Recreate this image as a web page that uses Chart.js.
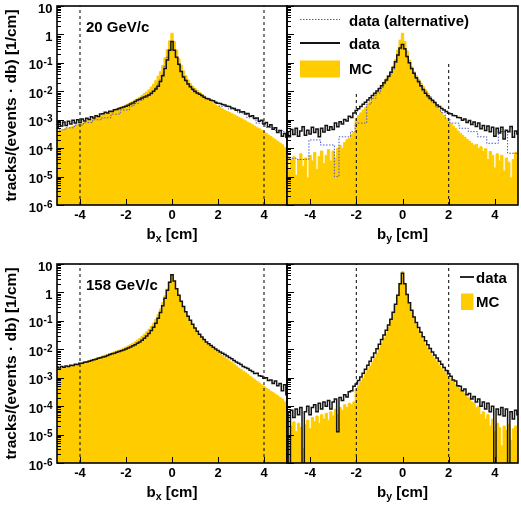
<!DOCTYPE html>
<html><head><meta charset="utf-8">
<script src="https://cdn.jsdelivr.net/npm/chart.js@4.4.1/dist/chart.umd.min.js"></script>
<style>
html,body{margin:0;padding:0;background:#fff;}
#wrap{position:relative;width:521px;height:505px;overflow:hidden;background:#fff;}
#wrap canvas{position:absolute;left:0;top:0;}
</style></head><body>
<div id="wrap">
<canvas id="cTL" width="521" height="505"></canvas>
<canvas id="cTR" width="521" height="505"></canvas>
<canvas id="cBL" width="521" height="505"></canvas>
<canvas id="cBR" width="521" height="505"></canvas>
</div>
<script>
// ---------- categories / ticks ----------
const BIN_W = 0.1;
const binCenters = Array.from({length: 101}, (_, i) => (i - 50) / 10); // -5.0 ... 5.0 cm
const xTicks = [-4, -2, 0, 2, 4];
const yTickValues = [1e-6, 1e-5, 1e-4, 1e-3, 1e-2, 1e-1, 1, 10];
const yTickExps = [-6, -5, -4, -3, -2, -1, 0, 1];
const cutsBx = [-4, 4];
const cutsBy = [-2, 2];
const cutTopsBx20 = [10, 10];
const cutTopsBy20 = [0.01, 0.1];
const cutTopsBx158 = [10, 10];
const cutTopsBy158 = [10, 10];
const panelLabels = ['20 GeV/c', '158 GeV/c'];

// ---------- 20 GeV/c, b_x ----------
const bx20MC = [
 3.8e-4,4.0e-4,4.3e-4,4.6e-4,4.9e-4,5.1e-4,5.5e-4,5.9e-4,6.2e-4,6.6e-4,
 7.1e-4,7.6e-4,8.1e-4,8.9e-4,9.5e-4,1.02e-3,1.1e-3,1.17e-3,1.29e-3,1.38e-3,
 1.48e-3,1.58e-3,1.74e-3,1.86e-3,2.04e-3,2.19e-3,2.4e-3,2.57e-3,2.82e-3,3.0e-3,
 3.3e-3,3.6e-3,4.0e-3,4.4e-3,4.9e-3,5.4e-3,6.2e-3,7.1e-3,8.3e-3,9.5e-3,
 1.12e-2,1.41e-2,1.78e-2,2.34e-2,3.4e-2,4.9e-2,8.1e-2,0.151,0.295,0.6,
 1.1,0.56,0.28,0.141,8.3e-2,5.2e-2,3.55e-2,2.5e-2,1.9e-2,1.51e-2,
 1.26e-2,1.07e-2,9.1e-3,7.8e-3,6.6e-3,5.6e-3,4.9e-3,4.3e-3,3.7e-3,3.3e-3,
 2.9e-3,2.63e-3,2.4e-3,2.14e-3,1.95e-3,1.78e-3,1.62e-3,1.48e-3,1.35e-3,1.23e-3,
 1.12e-3,1.0e-3,9.1e-4,8.1e-4,7.4e-4,6.6e-4,5.9e-4,5.2e-4,4.8e-4,4.3e-4,
 3.8e-4,3.3e-4,2.9e-4,2.57e-4,2.24e-4,1.95e-4,1.7e-4,1.51e-4,1.32e-4,1.05e-4,
 7.9e-5];
const bx20Data = [
 5.2e-4,7.9e-4,6.0e-4,8.3e-4,6.3e-4,8.9e-4,7.1e-4,9.5e-4,7.6e-4,1.0e-3,
 7.9e-4,1.05e-3,9.1e-4,1.12e-3,1.02e-3,1.26e-3,1.15e-3,1.38e-3,1.29e-3,1.58e-3,
 1.62e-3,1.82e-3,1.74e-3,2.0e-3,1.95e-3,2.24e-3,2.3e-3,2.5e-3,2.63e-3,2.82e-3,
 3.0e-3,3.2e-3,3.55e-3,3.9e-3,4.4e-3,4.9e-3,5.2e-3,5.8e-3,6.3e-3,6.8e-3,
 7.4e-3,8.5e-3,1.0e-2,1.2e-2,1.51e-2,2.2e-2,3.55e-2,6.3e-2,0.126,0.28,
 0.56,0.28,0.158,8.9e-2,5.0e-2,3.2e-2,2.4e-2,1.82e-2,1.45e-2,1.17e-2,
 9.8e-3,8.7e-3,7.8e-3,7.1e-3,6.2e-3,5.6e-3,5.4e-3,4.8e-3,4.6e-3,4.1e-3,
 3.8e-3,3.7e-3,3.4e-3,3.3e-3,2.95e-3,2.9e-3,2.57e-3,2.5e-3,2.14e-3,2.2e-3,
 1.86e-3,1.9e-3,1.58e-3,1.66e-3,1.32e-3,1.38e-3,1.1e-3,1.15e-3,8.9e-4,9.5e-4,
 7.1e-4,7.9e-4,5.6e-4,6.6e-4,4.6e-4,5.2e-4,3.55e-4,4.2e-4,2.63e-4,3.3e-4,
 2.4e-4];
const bx20Alt = [
 4.4e-4,4.4e-4,4.4e-4,4.4e-4,5.2e-4,5.2e-4,5.2e-4,5.2e-4,6.5e-4,6.5e-4,
 6.5e-4,6.5e-4,7.9e-4,7.9e-4,7.9e-4,7.9e-4,1.0e-3,1.0e-3,1.0e-3,1.0e-3,
 1.17e-3,1.17e-3,1.17e-3,1.17e-3,1.58e-3,1.58e-3,1.58e-3,1.58e-3,2.2e-3,2.2e-3,
 2.2e-3,2.2e-3,3.0e-3,3.0e-3,3.7e-3,3.7e-3,4.8e-3,4.8e-3,6.0e-3,6.0e-3,
 7.6e-3,7.6e-3,1.0e-2,1.32e-2,1.78e-2,2.5e-2,4.0e-2,7.6e-2,0.158,0.28,
 0.3,0.275,0.15,8.3e-2,5.0e-2,3.4e-2,2.5e-2,1.9e-2,1.51e-2,1.07e-2,
 1.07e-2,8.3e-3,8.3e-3,6.8e-3,6.8e-3,5.6e-3,5.6e-3,4.7e-3,4.7e-3,3.7e-3,
 3.7e-3,2.95e-3,2.95e-3,2.95e-3,2.95e-3,2.34e-3,2.34e-3,2.34e-3,2.34e-3,1.74e-3,
 1.74e-3,1.74e-3,1.74e-3,1.17e-3,1.17e-3,1.17e-3,1.17e-3,7.6e-4,7.6e-4,7.6e-4,
 7.6e-4,5.4e-4,5.4e-4,5.4e-4,5.4e-4,4.2e-4,4.2e-4,4.2e-4,4.2e-4,3.8e-4,
 3.8e-4];

// ---------- 20 GeV/c, b_y ----------
const by20MC = [
 5.6e-5,1.78e-5,4.0e-5,5.0e-5,1.12e-5,4.0e-5,6.3e-5,2.24e-5,4.5e-5,8.9e-6,
 5.6e-5,3.55e-5,7.1e-5,1.78e-5,5.0e-5,7.9e-5,2.82e-5,5.6e-5,8.9e-5,3.55e-5,
 7.9e-5,4.5e-5,1.0e-4,1.26e-4,1.0e-4,1.58e-4,2.0e-4,2.24e-4,3.0e-4,3.55e-4,
 1.12e-3,1.41e-3,1.74e-3,2.19e-3,2.75e-3,3.5e-3,4.5e-3,5.8e-3,7.4e-3,9.5e-3,
 1.26e-2,1.62e-2,2.1e-2,2.75e-2,3.6e-2,4.9e-2,7.6e-2,0.132,0.28,0.63,
 1.1,0.56,0.263,0.126,7.2e-2,4.9e-2,3.55e-2,2.63e-2,1.95e-2,1.48e-2,
 1.12e-2,8.5e-3,6.5e-3,4.9e-3,3.7e-3,2.9e-3,2.24e-3,1.74e-3,1.38e-3,1.07e-3,
 8.5e-4,7.1e-4,5.9e-4,4.9e-4,4.0e-4,3.3e-4,2.82e-4,2.4e-4,2.0e-4,1.74e-4,
 1.48e-4,1.26e-4,1.35e-4,9.5e-5,1.12e-4,7.6e-5,9.5e-5,4.0e-5,7.6e-5,5.6e-5,
 2.0e-5,6.3e-5,3.55e-5,5.6e-5,1.58e-5,4.5e-5,3.2e-5,8.9e-6,4.0e-5,7.1e-5,
 4.0e-5];
const by20Data = [
 3.55e-4,2.5e-4,4.5e-4,3.0e-4,5.0e-4,2.63e-4,4.0e-4,5.6e-4,2.82e-4,4.3e-4,
 3.16e-4,5.4e-4,3.55e-4,4.7e-4,2.5e-4,5.0e-4,3.7e-4,6.3e-4,4.3e-4,5.6e-4,
 4.5e-4,7.6e-4,5.6e-4,8.5e-4,7.1e-4,1.02e-3,9.1e-4,1.32e-3,1.2e-3,1.74e-3,
 2.1e-3,2.45e-3,2.9e-3,3.5e-3,4.1e-3,4.9e-3,5.9e-3,7.1e-3,8.5e-3,1.02e-2,
 1.26e-2,1.58e-2,2.0e-2,2.5e-2,3.4e-2,4.7e-2,6.9e-2,0.11,0.19,0.33,
 0.44,0.316,0.166,0.1,6.3e-2,4.3e-2,3.0e-2,2.2e-2,1.58e-2,1.15e-2,
 8.5e-3,6.9e-3,5.6e-3,4.8e-3,4.0e-3,3.3e-3,2.9e-3,2.5e-3,2.2e-3,1.95e-3,
 1.7e-3,1.62e-3,1.41e-3,1.38e-3,1.2e-3,1.17e-3,9.5e-4,1.07e-3,7.9e-4,9.3e-4,
 6.8e-4,8.3e-4,5.8e-4,7.6e-4,4.8e-4,6.3e-4,4.2e-4,6.0e-4,3.8e-4,5.4e-4,
 2.63e-4,5.0e-4,3.4e-4,5.4e-4,2.1e-4,4.3e-4,3.8e-4,5.8e-4,2.4e-4,4.0e-4,
 3.16e-4];
const by20Alt = [
 4.4e-5,4.4e-5,4.4e-5,4.4e-5,4.4e-5,4.0e-5,4.0e-5,4.0e-5,4.0e-5,4.0e-5,
 1.95e-4,1.95e-4,1.95e-4,1.95e-4,1.95e-4,1.29e-4,1.29e-4,1.29e-4,1.29e-4,1.29e-4,
 1.29e-4,1.0e-5,1.0e-5,2.5e-4,2.5e-4,2.5e-4,2.5e-4,2.5e-4,3.8e-4,3.8e-4,
 7.6e-4,7.6e-4,7.6e-4,7.6e-4,7.6e-4,3.55e-3,3.55e-3,5.6e-3,5.6e-3,8.7e-3,
 8.7e-3,1.26e-2,1.66e-2,2.24e-2,3.0e-2,4.0e-2,6.0e-2,0.1,0.178,0.3,
 0.32,0.295,0.158,9.5e-2,6.0e-2,4.0e-2,2.82e-2,2.0e-2,1.48e-2,1.0e-2,
 1.0e-2,6.3e-3,6.3e-3,4.2e-3,4.2e-3,2.75e-3,2.75e-3,1.78e-3,1.78e-3,1.12e-3,
 1.12e-3,7.6e-4,7.6e-4,7.6e-4,7.6e-4,5.0e-4,5.0e-4,5.0e-4,5.0e-4,3.8e-4,
 3.8e-4,3.8e-4,3.8e-4,2.5e-4,2.5e-4,2.5e-4,2.5e-4,1.48e-4,1.48e-4,1.48e-4,
 1.48e-4,1.48e-4,3.8e-4,3.8e-4,3.8e-4,3.8e-4,6.6e-5,6.6e-5,6.6e-5,6.6e-5,
 6.6e-5];

// ---------- 158 GeV/c, b_x ----------
const bx158MC = [
 1.9e-3,2.0e-3,2.1e-3,2.2e-3,2.3e-3,2.4e-3,2.6e-3,2.7e-3,2.8e-3,3.0e-3,
 3.2e-3,3.3e-3,3.5e-3,3.7e-3,4.0e-3,4.2e-3,4.5e-3,4.8e-3,5.0e-3,5.4e-3,
 5.8e-3,6.2e-3,6.6e-3,7.1e-3,7.6e-3,8.1e-3,8.7e-3,9.3e-3,1.0e-2,1.1e-2,
 1.2e-2,1.32e-2,1.45e-2,1.62e-2,1.82e-2,2.1e-2,2.4e-2,2.8e-2,3.4e-2,4.1e-2,
 5.0e-2,6.3e-2,8.3e-2,0.115,0.166,0.26,0.44,0.76,1.32,2.4,
 4.2,2.4,1.26,0.76,0.47,0.3,0.2,0.138,0.1,7.2e-2,
 5.4e-2,4.1e-2,3.2e-2,2.5e-2,2.0e-2,1.66e-2,1.41e-2,1.2e-2,1.02e-2,8.9e-3,
 7.8e-3,6.8e-3,5.9e-3,5.1e-3,4.5e-3,3.9e-3,3.4e-3,3.0e-3,2.6e-3,2.2e-3,
 1.95e-3,1.7e-3,1.48e-3,1.29e-3,1.12e-3,9.8e-4,8.5e-4,7.4e-4,6.5e-4,5.6e-4,
 4.9e-4,4.3e-4,3.8e-4,3.3e-4,2.95e-4,2.6e-4,2.3e-4,2.0e-4,1.78e-4,1.41e-4,
 3.2e-5];
const bx158Data = [
 2.4e-3,2.2e-3,2.5e-3,2.35e-3,2.6e-3,2.5e-3,2.75e-3,2.7e-3,2.95e-3,2.9e-3,
 3.2e-3,3.25e-3,3.5e-3,3.55e-3,3.8e-3,4.0e-3,4.3e-3,4.5e-3,4.8e-3,5.0e-3,
 5.4e-3,5.6e-3,6.0e-3,6.5e-3,6.9e-3,7.2e-3,7.8e-3,8.3e-3,8.9e-3,9.5e-3,
 1.02e-2,1.1e-2,1.2e-2,1.32e-2,1.45e-2,1.62e-2,1.82e-2,2.1e-2,2.45e-2,2.95e-2,
 3.6e-2,4.6e-2,6.0e-2,8.3e-2,0.123,0.195,0.34,0.63,1.2,2.3,
 4.2,2.5,1.35,0.79,0.49,0.32,0.21,0.145,0.105,7.6e-2,
 5.6e-2,4.3e-2,3.4e-2,2.7e-2,2.2e-2,1.82e-2,1.55e-2,1.35e-2,1.17e-2,1.02e-2,
 9.1e-3,8.1e-3,7.2e-3,6.5e-3,5.8e-3,5.1e-3,4.6e-3,4.0e-3,3.6e-3,3.2e-3,
 2.9e-3,2.5e-3,2.3e-3,2.1e-3,1.82e-3,1.66e-3,1.41e-3,1.45e-3,1.17e-3,1.12e-3,
 9.5e-4,1.0e-3,7.9e-4,8.3e-4,6.3e-4,7.6e-4,5.2e-4,6.3e-4,3.5e-4,5.6e-4,
 2.5e-4];

// ---------- 158 GeV/c, b_y ----------
const by158MC = [
 2.5e-5,5e-6,2.0e-5,2.8e-5,1.26e-5,2.5e-5,1.78e-5,3.2e-6,2.2e-5,3.2e-5,
 1.6e-5,4.0e-5,2.8e-5,4.5e-5,2.5e-5,5.0e-5,3.5e-5,5.6e-5,3.2e-5,6.3e-5,
 4.5e-5,7.9e-5,5.0e-5,8.9e-5,7.1e-5,1.12e-4,8.9e-5,1.26e-4,1.12e-4,1.41e-4,
 4.0e-4,5.2e-4,7.1e-4,9.5e-4,1.32e-3,1.82e-3,2.5e-3,3.5e-3,4.9e-3,7.1e-3,
 1.05e-2,1.58e-2,2.4e-2,3.7e-2,6.0e-2,0.105,0.19,0.36,0.79,2.1,
 5.4,2.1,0.87,0.42,0.22,0.126,7.6e-2,4.8e-2,3.2e-2,2.1e-2,
 1.51e-2,1.1e-2,8.1e-3,6.0e-3,4.6e-3,3.5e-3,2.7e-3,2.1e-3,1.7e-3,1.35e-3,
 1.07e-3,8.7e-4,7.1e-4,5.8e-4,4.7e-4,4.0e-4,3.2e-4,2.8e-4,2.1e-4,1.9e-4,
 1.41e-4,1.26e-4,8.9e-5,1.0e-4,5.0e-5,6.3e-5,3.5e-5,5.0e-5,2.0e-5,3.5e-5,
 1.26e-5,2.5e-5,1.78e-5,4e-6,2.0e-5,1.41e-5,2.2e-5,6.3e-6,1.6e-5,2.0e-5,
 1.26e-5];
const by158Data = [
 5.6e-5,0,7.1e-5,4.0e-5,7.9e-5,5.0e-5,8.9e-5,0,6.3e-5,1.0e-4,
 5.0e-5,8.9e-5,1.12e-4,6.3e-5,1.26e-4,7.9e-5,1.41e-4,1.0e-4,1.58e-4,7.9e-5,
 1.41e-4,1.78e-4,1.26e-5,2.0e-4,1.58e-4,2.5e-4,2.1e-4,3.2e-4,3.5e-4,5.0e-4,
 6.0e-4,7.9e-4,1.05e-3,1.45e-3,2.0e-3,2.75e-3,3.8e-3,5.2e-3,7.4e-3,1.05e-2,
 1.51e-2,2.2e-2,3.2e-2,4.7e-2,7.1e-2,0.115,0.2,0.38,0.79,2.0,
 4.7,2.0,0.85,0.43,0.235,0.138,8.7e-2,5.8e-2,4.0e-2,2.75e-2,
 2.0e-2,1.45e-2,1.07e-2,8.1e-3,6.3e-3,4.9e-3,3.8e-3,2.95e-3,2.3e-3,1.78e-3,
 1.38e-3,1.12e-3,8.3e-4,7.6e-4,5.2e-4,5.0e-4,3.5e-4,4.0e-4,2.5e-4,2.8e-4,
 1.78e-4,2.2e-4,1.41e-4,1.78e-4,1.0e-4,1.41e-4,7.9e-5,1.26e-4,6.3e-5,1.0e-4,
 0,7.9e-5,5.0e-5,8.9e-5,4.5e-5,7.9e-5,0,6.3e-5,3.5e-5,7.1e-5,
 5.0e-5];

// ---------- drawing ----------
const FONT = '"Liberation Sans", Arial, Helvetica, sans-serif';
const MC_COLOR = '#FFCC00';
const DATA_COLOR = '#141414';
const ALT_COLOR = 'rgb(70,85,225)';
const Y_MIN = 1e-6, Y_MAX = 10;
const Y_TITLE = 'tracks/(events \u00b7 db) [1/cm]';

function hist(values) {
  const pts = values.map((v, i) => ({x: binCenters[i] - BIN_W / 2, y: v > 0 ? v : Y_MIN / 100}));
  pts.push({x: binCenters[binCenters.length - 1] + BIN_W / 2, y: pts[pts.length - 1].y});
  return pts;
}
function vline(xv, top) { return [{x: xv, y: Y_MIN}, {x: xv, y: top}]; }

function makeDecor(p) {
  return {
    id: 'decor',
    afterDraw(chart) {
      const ctx = chart.ctx, a = chart.chartArea, xs = chart.scales.x, ys = chart.scales.y;
      ctx.save();
      ctx.strokeStyle = '#000'; ctx.fillStyle = '#000';
      ctx.lineWidth = 1;
      yTickValues.forEach(dec => {
        for (let m = 1; m <= 9; m++) {
          const v = dec * m;
          if (v > Y_MAX * 1.0001) break;
          const py = Math.round(ys.getPixelForValue(v)) + 0.5;
          ctx.beginPath(); ctx.moveTo(a.left, py); ctx.lineTo(a.left + (m === 1 ? 7 : 4), py); ctx.stroke();
        }
      });
      xTicks.forEach(v => {
        const px = Math.round(xs.getPixelForValue(v)) + 0.5;
        ctx.beginPath(); ctx.moveTo(px, a.bottom); ctx.lineTo(px, a.bottom - 6); ctx.stroke();
      });
      ctx.lineWidth = 1.6;
      ctx.strokeRect(a.left, a.top, a.right - a.left, a.bottom - a.top);

      if (p.yLabels) {
        yTickValues.forEach((v, i) => {
          const e = yTickExps[i];
          const py = ys.getPixelForValue(v);
          const base = e === 0 ? '1' : '10';
          const sup = (e === 0 || e === 1) ? '' : String(e);
          ctx.font = 'bold 10px ' + FONT;
          const sw = sup ? ctx.measureText(sup).width + 0.5 : 0;
          ctx.font = 'bold 13px ' + FONT;
          ctx.textAlign = 'right'; ctx.textBaseline = 'alphabetic';
          const bx = 52.5 - sw, by = py + 6.5;
          ctx.fillText(base, bx, by);
          if (sup) { ctx.font = 'bold 10px ' + FONT; ctx.textAlign = 'left'; ctx.fillText(sup, bx + 0.5, by - 4); }
        });
        ctx.save();
        ctx.translate(12, (a.top + a.bottom) / 2);
        ctx.rotate(-Math.PI / 2);
        ctx.font = 'bold 15.5px ' + FONT; ctx.textAlign = 'center'; ctx.textBaseline = 'middle';
        ctx.fillText(Y_TITLE, 0, 0);
        ctx.restore();
      }
      ctx.textAlign = 'left'; ctx.textBaseline = 'alphabetic';
      ctx.font = 'bold 15px ' + FONT;
      const w1 = ctx.measureText('b').width, w3 = ctx.measureText(' [cm]').width;
      ctx.font = 'bold 10.5px ' + FONT;
      const w2 = ctx.measureText(p.sub).width;
      const x0 = (a.left + a.right) / 2 - (w1 + w2 + w3) / 2, tb = a.bottom + 33.5;
      ctx.font = 'bold 15px ' + FONT; ctx.fillText('b', x0, tb);
      ctx.font = 'bold 10.5px ' + FONT; ctx.fillText(p.sub, x0 + w1, tb + 3.5);
      ctx.font = 'bold 15px ' + FONT; ctx.fillText(' [cm]', x0 + w1 + w2, tb);
      if (p.label) { ctx.font = 'bold 15px ' + FONT; ctx.fillText(p.label, 86, a.top + 26); }
      if (p.legend === 'full') {
        const t = a.top;
        ctx.lineWidth = 1; ctx.strokeStyle = ALT_COLOR; ctx.setLineDash([1.5, 1.5]);
        ctx.beginPath(); ctx.moveTo(300, t + 13.5); ctx.lineTo(340, t + 13.5); ctx.stroke();
        ctx.setLineDash([]); ctx.strokeStyle = DATA_COLOR; ctx.lineWidth = 1.8;
        ctx.beginPath(); ctx.moveTo(300, t + 37); ctx.lineTo(340, t + 37); ctx.stroke();
        ctx.fillStyle = MC_COLOR; ctx.fillRect(300, t + 54.5, 40, 17);
        ctx.fillStyle = '#000'; ctx.font = 'bold 15px ' + FONT;
        ctx.fillText('data (alternative)', 349, t + 19.5);
        ctx.fillText('data', 349, t + 42.5);
        ctx.fillText('MC', 349, t + 68);
      } else if (p.legend === 'short') {
        const t = a.top;
        ctx.setLineDash([]); ctx.strokeStyle = DATA_COLOR; ctx.lineWidth = 1.8;
        ctx.beginPath(); ctx.moveTo(460, t + 13); ctx.lineTo(474, t + 13); ctx.stroke();
        ctx.fillStyle = MC_COLOR; ctx.fillRect(461, t + 29.5, 12.5, 16.5);
        ctx.fillStyle = '#000'; ctx.font = 'bold 15px ' + FONT;
        ctx.fillText('data', 476, t + 18.5);
        ctx.fillText('MC', 476, t + 43);
      }
      ctx.restore();
    }
  };
}

function makePanel(id, p) {
  const ds = [];
  ds.push({label: 'data', data: hist(p.data), borderColor: DATA_COLOR, borderWidth: 1.5, fill: false, stepped: true, order: 0});
  p.cuts.forEach((c, i) => ds.push({label: 'cut', data: vline(c, p.cutTops[i]), borderColor: '#000', borderWidth: 1, borderDash: [3, 3], fill: false, order: 1}));
  if (p.alt) ds.push({label: 'data (alternative)', data: hist(p.alt), borderColor: ALT_COLOR, borderWidth: 1, borderDash: [1.5, 1.5], fill: false, stepped: true, order: 2});
  ds.push({label: 'MC', data: hist(p.mc), borderColor: MC_COLOR, backgroundColor: MC_COLOR, borderWidth: 1, fill: 'start', stepped: true, order: 3});
  new Chart(document.getElementById(id), {
    type: 'line',
    data: {datasets: ds},
    options: {
      responsive: false, animation: false, events: [], devicePixelRatio: 1,
      layout: {padding: p.pad},
      elements: {point: {radius: 0}, line: {tension: 0, borderJoinStyle: 'miter', borderCapStyle: 'butt'}},
      plugins: {legend: {display: false}, tooltip: {enabled: false}},
      scales: {
        x: {
          type: 'linear', min: -5, max: 5,
          afterBuildTicks: s => { s.ticks = xTicks.map(v => ({value: v})); },
          afterFit: s => { s.height = 20; },
          grid: {display: false, drawTicks: false}, border: {display: false},
          ticks: {autoSkip: false, maxRotation: 0, padding: 3, color: '#000', font: {family: FONT, size: 13, weight: 'bold'}}
        },
        y: {type: 'logarithmic', min: Y_MIN, max: Y_MAX, display: false}
      }
    },
    plugins: [makeDecor(p)]
  });
}

makePanel('cTL', {data: bx20Data, alt: bx20Alt, mc: bx20MC, cuts: cutsBx, cutTops: cutTopsBx20,
  pad: {left: 57, right: 234, top: 6, bottom: 280}, yLabels: true, sub: 'x', label: panelLabels[0]});
makePanel('cTR', {data: by20Data, alt: by20Alt, mc: by20MC, cuts: cutsBy, cutTops: cutTopsBy20,
  pad: {left: 287, right: 3, top: 6, bottom: 280}, yLabels: false, sub: 'y', legend: 'full'});
makePanel('cBL', {data: bx158Data, mc: bx158MC, cuts: cutsBx, cutTops: cutTopsBx158,
  pad: {left: 57, right: 234, top: 264, bottom: 22}, yLabels: true, sub: 'x', label: panelLabels[1]});
makePanel('cBR', {data: by158Data, mc: by158MC, cuts: cutsBy, cutTops: cutTopsBy158,
  pad: {left: 287, right: 3, top: 264, bottom: 22}, yLabels: false, sub: 'y', legend: 'short'});
</script>
</body></html>
